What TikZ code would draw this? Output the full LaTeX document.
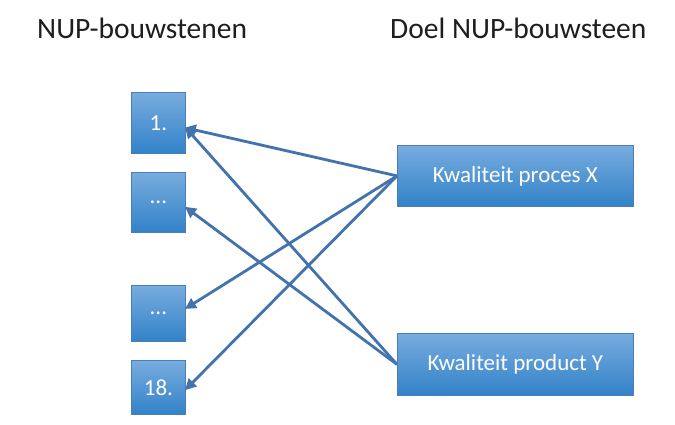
\documentclass[tikz,border=0pt]{standalone}
\usepackage{fontspec}
\setmainfont{Carlito}
\usetikzlibrary{arrows.meta}
\definecolor{boxtop}{HTML}{78ACDF}
\definecolor{boxbot}{HTML}{3282C8}
\definecolor{boxedge}{HTML}{4A7EBB}
\definecolor{arrowc}{HTML}{4273AD}
\definecolor{headc}{HTML}{1E1E1E}
\tikzset{
  blockbox/.style={rectangle, top color=boxtop, bottom color=boxbot, draw=boxedge, line width=0.8pt,
    text=white, font=\fontsize{23}{26}\selectfont, inner sep=0pt, anchor=north west},
  heading/.style={font=\fontsize{29.5}{32}\selectfont, text=headc, inner sep=0pt},
  link/.style={draw=arrowc, line width=2.8pt, -{Triangle[length=11pt,width=11pt]}, shorten >=-1pt}
}
\begin{document}
\begin{tikzpicture}[x=1pt,y=-1pt]
\useasboundingbox (0,0) rectangle (675,425);
\fill[white] (0,0) rectangle (675,425);
\node[heading, anchor=west] (h1) at (37,28) {NUP-bouwstenen};
\node[heading, anchor=west] (h2) at (390,28) {Doel NUP-bouwsteen};
% small boxes
\node[blockbox, minimum width=54pt, minimum height=61pt] (b1) at (131,92) {1.};
\node[blockbox, minimum width=54pt, minimum height=60pt] (b2) at (131,172) {...};
\node[blockbox, minimum width=54pt, minimum height=56pt] (b3) at (131,285) {...};
\node[blockbox, minimum width=54pt, minimum height=54pt] (b4) at (131,360) {18.};
% big boxes
\node[blockbox, minimum width=236pt, minimum height=61pt] (px) at (397,145) {Kwaliteit proces X};
\node[blockbox, minimum width=236pt, minimum height=62pt] (py) at (397,333) {Kwaliteit product Y};
% connectors
\draw[link] (px.west) -- ([yshift=-5pt]b1.east);
\draw[link] (px.west) -- ([yshift=5pt]b3.east);
\draw[link] (px.west) -- ([yshift=-2pt]b4.east);
\draw[link] (py.west) -- ([yshift=-5pt]b1.east);
\draw[link] (py.west) -- ([yshift=-5pt]b2.east);
\end{tikzpicture}
\end{document}
